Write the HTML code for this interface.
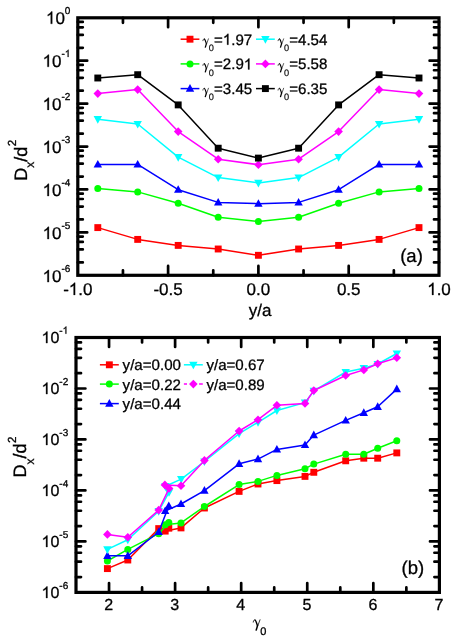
<!DOCTYPE html>
<html><head><meta charset="utf-8"><title>chart</title>
<style>html,body{margin:0;padding:0;background:#fff}svg text{font-family:"Liberation Sans",sans-serif;text-rendering:geometricPrecision;stroke:#000;stroke-width:0.3px}.o{stroke:#000;stroke-width:0.3px;vector-effect:non-scaling-stroke}body{width:457px;height:638px;position:relative;overflow:hidden;font-family:"Liberation Sans",sans-serif}</style>
</head><body>
<svg width="457" height="638" viewBox="0 0 457 638" style="position:absolute;left:0;top:0;will-change:transform" fill="#000">
<rect x="77.8" y="17.8" width="361.20" height="257.50" fill="none" stroke="#000" stroke-width="3.2"/>
<path d="M168.10 275.3v-9.4M168.10 17.8v9.4M258.40 275.3v-9.4M258.40 17.8v9.4M348.70 275.3v-9.4M348.70 17.8v9.4M122.95 275.3v-5.0M122.95 17.8v5.0M213.25 275.3v-5.0M213.25 17.8v5.0M303.55 275.3v-5.0M303.55 17.8v5.0M393.85 275.3v-5.0M393.85 17.8v5.0M77.8 60.72h9.4M439.0 60.72h-9.4M77.8 103.63h9.4M439.0 103.63h-9.4M77.8 146.55h9.4M439.0 146.55h-9.4M77.8 189.47h9.4M439.0 189.47h-9.4M77.8 232.38h9.4M439.0 232.38h-9.4M77.8 47.80h5.0M439.0 47.80h-5.0M77.8 34.88h5.0M439.0 34.88h-5.0M77.8 27.32h5.0M439.0 27.32h-5.0M77.8 21.96h5.0M439.0 21.96h-5.0M77.8 90.71h5.0M439.0 90.71h-5.0M77.8 77.79h5.0M439.0 77.79h-5.0M77.8 70.24h5.0M439.0 70.24h-5.0M77.8 64.88h5.0M439.0 64.88h-5.0M77.8 133.63h5.0M439.0 133.63h-5.0M77.8 120.71h5.0M439.0 120.71h-5.0M77.8 113.15h5.0M439.0 113.15h-5.0M77.8 107.79h5.0M439.0 107.79h-5.0M77.8 176.55h5.0M439.0 176.55h-5.0M77.8 163.63h5.0M439.0 163.63h-5.0M77.8 156.07h5.0M439.0 156.07h-5.0M77.8 150.71h5.0M439.0 150.71h-5.0M77.8 219.46h5.0M439.0 219.46h-5.0M77.8 206.54h5.0M439.0 206.54h-5.0M77.8 198.99h5.0M439.0 198.99h-5.0M77.8 193.63h5.0M439.0 193.63h-5.0M77.8 262.38h5.0M439.0 262.38h-5.0M77.8 249.46h5.0M439.0 249.46h-5.0M77.8 241.90h5.0M439.0 241.90h-5.0M77.8 236.54h5.0M439.0 236.54h-5.0" fill="none" stroke="#000" stroke-width="2.7" stroke-linecap="round"/>
<polyline points="97.80,227.60 137.70,239.40 178.20,245.40 218.20,249.00 258.40,255.30 298.60,249.00 338.60,245.40 379.10,239.40 419.00,227.60" fill="none" stroke="#ff0000" stroke-width="1.5" stroke-linejoin="round"/>
<rect x="94.35" y="224.15" width="6.9" height="6.9" fill="#ff0000"/>
<rect x="134.25" y="235.95" width="6.9" height="6.9" fill="#ff0000"/>
<rect x="174.75" y="241.95" width="6.9" height="6.9" fill="#ff0000"/>
<rect x="214.75" y="245.55" width="6.9" height="6.9" fill="#ff0000"/>
<rect x="254.95" y="251.85" width="6.9" height="6.9" fill="#ff0000"/>
<rect x="295.15" y="245.55" width="6.9" height="6.9" fill="#ff0000"/>
<rect x="335.15" y="241.95" width="6.9" height="6.9" fill="#ff0000"/>
<rect x="375.65" y="235.95" width="6.9" height="6.9" fill="#ff0000"/>
<rect x="415.55" y="224.15" width="6.9" height="6.9" fill="#ff0000"/>
<polyline points="97.80,188.40 137.70,191.90 178.20,203.30 218.20,217.30 258.40,221.40 298.60,217.30 338.60,203.30 379.10,191.90 419.00,188.40" fill="none" stroke="#00ff00" stroke-width="1.5" stroke-linejoin="round"/>
<circle cx="97.80" cy="188.40" r="3.5" fill="#00ff00"/>
<circle cx="137.70" cy="191.90" r="3.5" fill="#00ff00"/>
<circle cx="178.20" cy="203.30" r="3.5" fill="#00ff00"/>
<circle cx="218.20" cy="217.30" r="3.5" fill="#00ff00"/>
<circle cx="258.40" cy="221.40" r="3.5" fill="#00ff00"/>
<circle cx="298.60" cy="217.30" r="3.5" fill="#00ff00"/>
<circle cx="338.60" cy="203.30" r="3.5" fill="#00ff00"/>
<circle cx="379.10" cy="191.90" r="3.5" fill="#00ff00"/>
<circle cx="419.00" cy="188.40" r="3.5" fill="#00ff00"/>
<polyline points="97.80,164.40 137.70,164.40 178.20,189.70 218.20,202.40 258.40,203.70 298.60,202.40 338.60,189.70 379.10,164.40 419.00,164.40" fill="none" stroke="#0000ff" stroke-width="1.5" stroke-linejoin="round"/>
<path d="M97.80 159.90L93.60 167.50L102.00 167.50Z" fill="#0000ff"/>
<path d="M137.70 159.90L133.50 167.50L141.90 167.50Z" fill="#0000ff"/>
<path d="M178.20 185.20L174.00 192.80L182.40 192.80Z" fill="#0000ff"/>
<path d="M218.20 197.90L214.00 205.50L222.40 205.50Z" fill="#0000ff"/>
<path d="M258.40 199.20L254.20 206.80L262.60 206.80Z" fill="#0000ff"/>
<path d="M298.60 197.90L294.40 205.50L302.80 205.50Z" fill="#0000ff"/>
<path d="M338.60 185.20L334.40 192.80L342.80 192.80Z" fill="#0000ff"/>
<path d="M379.10 159.90L374.90 167.50L383.30 167.50Z" fill="#0000ff"/>
<path d="M419.00 159.90L414.80 167.50L423.20 167.50Z" fill="#0000ff"/>
<polyline points="97.80,119.20 137.70,124.00 178.20,157.20 218.20,177.60 258.40,182.90 298.60,177.60 338.60,157.20 379.10,124.00 419.00,119.20" fill="none" stroke="#00ffff" stroke-width="1.5" stroke-linejoin="round"/>
<path d="M97.80 123.70L93.60 116.10L102.00 116.10Z" fill="#00ffff"/>
<path d="M137.70 128.50L133.50 120.90L141.90 120.90Z" fill="#00ffff"/>
<path d="M178.20 161.70L174.00 154.10L182.40 154.10Z" fill="#00ffff"/>
<path d="M218.20 182.10L214.00 174.50L222.40 174.50Z" fill="#00ffff"/>
<path d="M258.40 187.40L254.20 179.80L262.60 179.80Z" fill="#00ffff"/>
<path d="M298.60 182.10L294.40 174.50L302.80 174.50Z" fill="#00ffff"/>
<path d="M338.60 161.70L334.40 154.10L342.80 154.10Z" fill="#00ffff"/>
<path d="M379.10 128.50L374.90 120.90L383.30 120.90Z" fill="#00ffff"/>
<path d="M419.00 123.70L414.80 116.10L423.20 116.10Z" fill="#00ffff"/>
<polyline points="97.80,93.60 137.70,89.60 178.20,131.60 218.20,159.20 258.40,164.70 298.60,159.20 338.60,131.60 379.10,89.60 419.00,93.60" fill="none" stroke="#ff00ff" stroke-width="1.5" stroke-linejoin="round"/>
<path d="M97.80 89.30L102.10 93.60L97.80 97.90L93.50 93.60Z" fill="#ff00ff"/>
<path d="M137.70 85.30L142.00 89.60L137.70 93.90L133.40 89.60Z" fill="#ff00ff"/>
<path d="M178.20 127.30L182.50 131.60L178.20 135.90L173.90 131.60Z" fill="#ff00ff"/>
<path d="M218.20 154.90L222.50 159.20L218.20 163.50L213.90 159.20Z" fill="#ff00ff"/>
<path d="M258.40 160.40L262.70 164.70L258.40 169.00L254.10 164.70Z" fill="#ff00ff"/>
<path d="M298.60 154.90L302.90 159.20L298.60 163.50L294.30 159.20Z" fill="#ff00ff"/>
<path d="M338.60 127.30L342.90 131.60L338.60 135.90L334.30 131.60Z" fill="#ff00ff"/>
<path d="M379.10 85.30L383.40 89.60L379.10 93.90L374.80 89.60Z" fill="#ff00ff"/>
<path d="M419.00 89.30L423.30 93.60L419.00 97.90L414.70 93.60Z" fill="#ff00ff"/>
<polyline points="97.80,78.00 137.70,74.70 178.20,104.90 218.20,148.20 258.40,158.10 298.60,148.20 338.60,104.90 379.10,74.70 419.00,78.00" fill="none" stroke="#000000" stroke-width="1.5" stroke-linejoin="round"/>
<rect x="94.35" y="74.55" width="6.9" height="6.9" fill="#000000"/>
<rect x="134.25" y="71.25" width="6.9" height="6.9" fill="#000000"/>
<rect x="174.75" y="101.45" width="6.9" height="6.9" fill="#000000"/>
<rect x="214.75" y="144.75" width="6.9" height="6.9" fill="#000000"/>
<rect x="254.95" y="154.65" width="6.9" height="6.9" fill="#000000"/>
<rect x="295.15" y="144.75" width="6.9" height="6.9" fill="#000000"/>
<rect x="335.15" y="101.45" width="6.9" height="6.9" fill="#000000"/>
<rect x="375.65" y="71.25" width="6.9" height="6.9" fill="#000000"/>
<rect x="415.55" y="74.55" width="6.9" height="6.9" fill="#000000"/>
<path d="M180.6 39.2H199.4" stroke="#ff0000" stroke-width="1.5" fill="none"/>
<rect x="186.55" y="35.75" width="6.9" height="6.9" fill="#ff0000"/>
<g transform="translate(202.7,45.2) scale(0.82)" fill="none" stroke="#000" stroke-linejoin="round"><path d="M0.25,-5.5C0.45,-7.2 1.2,-8.0 2.0,-7.8" stroke-width="0.85" stroke-linecap="round"/><path d="M1.7,-7.75C2.9,-7.5 3.4,-5.4 4.55,-1.5" stroke-width="1.45"/><path d="M7.15,-8.2L4.6,-1.2" stroke-width="0.8"/><path d="M4.55,-2.0L3.05,3.0" stroke-width="1.55"/></g>
<text x="208.7" y="50.8" font-size="9.2" style="stroke-width:0.15px">0</text>
<text x="214.00" y="44.70" font-size="15.1">=</text>
<path class="o" transform="translate(222.82,44.70) scale(15.1)" d="M0.3706,0L0.2827,0L0.2827,-0.56Q0.251,-0.5298 0.1995,-0.4995Q0.148,-0.469 0.107,-0.454L0.107,-0.539Q0.1807,-0.5737 0.2358,-0.623Q0.291,-0.672 0.314,-0.71875L0.3706,-0.71875Z"/>
<text x="231.21" y="44.70" font-size="15.1">.97</text>
<path d="M180.6 63.9H199.4" stroke="#00ff00" stroke-width="1.5" fill="none"/>
<circle cx="190.00" cy="63.90" r="3.5" fill="#00ff00"/>
<g transform="translate(202.7,69.9) scale(0.82)" fill="none" stroke="#000" stroke-linejoin="round"><path d="M0.25,-5.5C0.45,-7.2 1.2,-8.0 2.0,-7.8" stroke-width="0.85" stroke-linecap="round"/><path d="M1.7,-7.75C2.9,-7.5 3.4,-5.4 4.55,-1.5" stroke-width="1.45"/><path d="M7.15,-8.2L4.6,-1.2" stroke-width="0.8"/><path d="M4.55,-2.0L3.05,3.0" stroke-width="1.55"/></g>
<text x="208.7" y="75.5" font-size="9.2" style="stroke-width:0.15px">0</text>
<text x="214.00" y="69.40" font-size="15.1">=2.9</text>
<path class="o" transform="translate(243.81,69.40) scale(15.1)" d="M0.3706,0L0.2827,0L0.2827,-0.56Q0.251,-0.5298 0.1995,-0.4995Q0.148,-0.469 0.107,-0.454L0.107,-0.539Q0.1807,-0.5737 0.2358,-0.623Q0.291,-0.672 0.314,-0.71875L0.3706,-0.71875Z"/>
<path d="M180.6 88.6H199.4" stroke="#0000ff" stroke-width="1.5" fill="none"/>
<path d="M190.00 84.10L185.80 91.70L194.20 91.70Z" fill="#0000ff"/>
<g transform="translate(202.7,94.6) scale(0.82)" fill="none" stroke="#000" stroke-linejoin="round"><path d="M0.25,-5.5C0.45,-7.2 1.2,-8.0 2.0,-7.8" stroke-width="0.85" stroke-linecap="round"/><path d="M1.7,-7.75C2.9,-7.5 3.4,-5.4 4.55,-1.5" stroke-width="1.45"/><path d="M7.15,-8.2L4.6,-1.2" stroke-width="0.8"/><path d="M4.55,-2.0L3.05,3.0" stroke-width="1.55"/></g>
<text x="208.7" y="100.2" font-size="9.2" style="stroke-width:0.15px">0</text>
<text x="214.00" y="94.10" font-size="15.1">=3.45</text>
<path d="M256.0 39.2H274.8" stroke="#00ffff" stroke-width="1.5" fill="none"/>
<path d="M265.40 43.70L261.20 36.10L269.60 36.10Z" fill="#00ffff"/>
<g transform="translate(277.9,45.2) scale(0.82)" fill="none" stroke="#000" stroke-linejoin="round"><path d="M0.25,-5.5C0.45,-7.2 1.2,-8.0 2.0,-7.8" stroke-width="0.85" stroke-linecap="round"/><path d="M1.7,-7.75C2.9,-7.5 3.4,-5.4 4.55,-1.5" stroke-width="1.45"/><path d="M7.15,-8.2L4.6,-1.2" stroke-width="0.8"/><path d="M4.55,-2.0L3.05,3.0" stroke-width="1.55"/></g>
<text x="283.9" y="50.8" font-size="9.2" style="stroke-width:0.15px">0</text>
<text x="289.20" y="44.70" font-size="15.1">=4.54</text>
<path d="M256.0 63.9H274.8" stroke="#ff00ff" stroke-width="1.5" fill="none"/>
<path d="M265.40 59.60L269.70 63.90L265.40 68.20L261.10 63.90Z" fill="#ff00ff"/>
<g transform="translate(277.9,69.9) scale(0.82)" fill="none" stroke="#000" stroke-linejoin="round"><path d="M0.25,-5.5C0.45,-7.2 1.2,-8.0 2.0,-7.8" stroke-width="0.85" stroke-linecap="round"/><path d="M1.7,-7.75C2.9,-7.5 3.4,-5.4 4.55,-1.5" stroke-width="1.45"/><path d="M7.15,-8.2L4.6,-1.2" stroke-width="0.8"/><path d="M4.55,-2.0L3.05,3.0" stroke-width="1.55"/></g>
<text x="283.9" y="75.5" font-size="9.2" style="stroke-width:0.15px">0</text>
<text x="289.20" y="69.40" font-size="15.1">=5.58</text>
<path d="M256.0 88.6H274.8" stroke="#000000" stroke-width="1.5" fill="none"/>
<rect x="261.95" y="85.15" width="6.9" height="6.9" fill="#000000"/>
<g transform="translate(277.9,94.6) scale(0.82)" fill="none" stroke="#000" stroke-linejoin="round"><path d="M0.25,-5.5C0.45,-7.2 1.2,-8.0 2.0,-7.8" stroke-width="0.85" stroke-linecap="round"/><path d="M1.7,-7.75C2.9,-7.5 3.4,-5.4 4.55,-1.5" stroke-width="1.45"/><path d="M7.15,-8.2L4.6,-1.2" stroke-width="0.8"/><path d="M4.55,-2.0L3.05,3.0" stroke-width="1.55"/></g>
<text x="283.9" y="100.2" font-size="9.2" style="stroke-width:0.15px">0</text>
<text x="289.20" y="94.10" font-size="15.1">=6.35</text>
<path class="o" transform="translate(45.94,23.80) scale(17)" d="M0.3706,0L0.2827,0L0.2827,-0.56Q0.251,-0.5298 0.1995,-0.4995Q0.148,-0.469 0.107,-0.454L0.107,-0.539Q0.1807,-0.5737 0.2358,-0.623Q0.291,-0.672 0.314,-0.71875L0.3706,-0.71875Z"/>
<text x="55.39" y="23.80" font-size="17">0</text>
<text x="64.84" y="13.90" font-size="10">0</text>
<path class="o" transform="translate(42.61,66.85) scale(17)" d="M0.3706,0L0.2827,0L0.2827,-0.56Q0.251,-0.5298 0.1995,-0.4995Q0.148,-0.469 0.107,-0.454L0.107,-0.539Q0.1807,-0.5737 0.2358,-0.623Q0.291,-0.672 0.314,-0.71875L0.3706,-0.71875Z"/>
<text x="52.06" y="66.85" font-size="17">0</text>
<text x="61.51" y="56.95" font-size="10">-</text>
<path class="o" transform="translate(64.84,56.95) scale(10)" d="M0.3706,0L0.2827,0L0.2827,-0.56Q0.251,-0.5298 0.1995,-0.4995Q0.148,-0.469 0.107,-0.454L0.107,-0.539Q0.1807,-0.5737 0.2358,-0.623Q0.291,-0.672 0.314,-0.71875L0.3706,-0.71875Z"/>
<path class="o" transform="translate(42.61,109.90) scale(17)" d="M0.3706,0L0.2827,0L0.2827,-0.56Q0.251,-0.5298 0.1995,-0.4995Q0.148,-0.469 0.107,-0.454L0.107,-0.539Q0.1807,-0.5737 0.2358,-0.623Q0.291,-0.672 0.314,-0.71875L0.3706,-0.71875Z"/>
<text x="52.06" y="109.90" font-size="17">0</text>
<text x="61.51" y="100.00" font-size="10">-2</text>
<path class="o" transform="translate(42.61,152.95) scale(17)" d="M0.3706,0L0.2827,0L0.2827,-0.56Q0.251,-0.5298 0.1995,-0.4995Q0.148,-0.469 0.107,-0.454L0.107,-0.539Q0.1807,-0.5737 0.2358,-0.623Q0.291,-0.672 0.314,-0.71875L0.3706,-0.71875Z"/>
<text x="52.06" y="152.95" font-size="17">0</text>
<text x="61.51" y="143.05" font-size="10">-3</text>
<path class="o" transform="translate(42.61,196.00) scale(17)" d="M0.3706,0L0.2827,0L0.2827,-0.56Q0.251,-0.5298 0.1995,-0.4995Q0.148,-0.469 0.107,-0.454L0.107,-0.539Q0.1807,-0.5737 0.2358,-0.623Q0.291,-0.672 0.314,-0.71875L0.3706,-0.71875Z"/>
<text x="52.06" y="196.00" font-size="17">0</text>
<text x="61.51" y="186.10" font-size="10">-4</text>
<path class="o" transform="translate(42.61,239.05) scale(17)" d="M0.3706,0L0.2827,0L0.2827,-0.56Q0.251,-0.5298 0.1995,-0.4995Q0.148,-0.469 0.107,-0.454L0.107,-0.539Q0.1807,-0.5737 0.2358,-0.623Q0.291,-0.672 0.314,-0.71875L0.3706,-0.71875Z"/>
<text x="52.06" y="239.05" font-size="17">0</text>
<text x="61.51" y="229.15" font-size="10">-5</text>
<path class="o" transform="translate(42.61,282.10) scale(17)" d="M0.3706,0L0.2827,0L0.2827,-0.56Q0.251,-0.5298 0.1995,-0.4995Q0.148,-0.469 0.107,-0.454L0.107,-0.539Q0.1807,-0.5737 0.2358,-0.623Q0.291,-0.672 0.314,-0.71875L0.3706,-0.71875Z"/>
<text x="52.06" y="282.10" font-size="17">0</text>
<text x="61.51" y="272.20" font-size="10">-6</text>
<text x="63.15" y="294.90" font-size="17">-</text>
<path class="o" transform="translate(68.82,294.90) scale(17)" d="M0.3706,0L0.2827,0L0.2827,-0.56Q0.251,-0.5298 0.1995,-0.4995Q0.148,-0.469 0.107,-0.454L0.107,-0.539Q0.1807,-0.5737 0.2358,-0.623Q0.291,-0.672 0.314,-0.71875L0.3706,-0.71875Z"/>
<text x="78.27" y="294.90" font-size="17">.0</text>
<text x="153.45" y="294.90" font-size="17">-0.5</text>
<text x="246.58" y="294.90" font-size="17">0.0</text>
<text x="336.88" y="294.90" font-size="17">0.5</text>
<path class="o" transform="translate(427.19,294.90) scale(17)" d="M0.3706,0L0.2827,0L0.2827,-0.56Q0.251,-0.5298 0.1995,-0.4995Q0.148,-0.469 0.107,-0.454L0.107,-0.539Q0.1807,-0.5737 0.2358,-0.623Q0.291,-0.672 0.314,-0.71875L0.3706,-0.71875Z"/>
<text x="436.64" y="294.90" font-size="17">.0</text>
<text x="260.2" y="315.6" font-size="17" text-anchor="middle">y/a</text>
<text x="411.5" y="261.9" font-size="18.5" text-anchor="middle">(a)</text>
<text transform="translate(26.6,180.7) rotate(-90)" font-size="18">D<tspan font-size="12" dy="7.6">x</tspan><tspan dy="-7.6">/d</tspan><tspan font-size="11.7" dy="-10.3" dx="0.5">2</tspan></text>
<rect x="76.0" y="337.5" width="363.40" height="254.90" fill="none" stroke="#000" stroke-width="3.2"/>
<path d="M109.04 592.4v-9.4M109.04 337.5v9.4M175.11 592.4v-9.4M175.11 337.5v9.4M241.18 592.4v-9.4M241.18 337.5v9.4M307.25 592.4v-9.4M307.25 337.5v9.4M373.33 592.4v-9.4M373.33 337.5v9.4M142.07 592.4v-5.0M142.07 337.5v5.0M208.15 592.4v-5.0M208.15 337.5v5.0M274.22 592.4v-5.0M274.22 337.5v5.0M340.29 592.4v-5.0M340.29 337.5v5.0M406.36 592.4v-5.0M406.36 337.5v5.0M76.0 388.48h9.4M439.4 388.48h-9.4M76.0 439.46h9.4M439.4 439.46h-9.4M76.0 490.44h9.4M439.4 490.44h-9.4M76.0 541.42h9.4M439.4 541.42h-9.4M76.0 373.13h5.0M439.4 373.13h-5.0M76.0 357.79h5.0M439.4 357.79h-5.0M76.0 348.81h5.0M439.4 348.81h-5.0M76.0 342.44h5.0M439.4 342.44h-5.0M76.0 424.11h5.0M439.4 424.11h-5.0M76.0 408.77h5.0M439.4 408.77h-5.0M76.0 399.79h5.0M439.4 399.79h-5.0M76.0 393.42h5.0M439.4 393.42h-5.0M76.0 475.09h5.0M439.4 475.09h-5.0M76.0 459.75h5.0M439.4 459.75h-5.0M76.0 450.77h5.0M439.4 450.77h-5.0M76.0 444.40h5.0M439.4 444.40h-5.0M76.0 526.07h5.0M439.4 526.07h-5.0M76.0 510.73h5.0M439.4 510.73h-5.0M76.0 501.75h5.0M439.4 501.75h-5.0M76.0 495.38h5.0M439.4 495.38h-5.0M76.0 577.05h5.0M439.4 577.05h-5.0M76.0 561.71h5.0M439.4 561.71h-5.0M76.0 552.73h5.0M439.4 552.73h-5.0M76.0 546.36h5.0M439.4 546.36h-5.0" fill="none" stroke="#000" stroke-width="2.7" stroke-linecap="round"/>
<polyline points="107.40,568.60 127.80,560.00 158.70,528.60 168.80,528.20 165.20,531.10 181.00,527.90 204.40,508.00 239.10,491.40 258.00,484.00 276.90,480.60 305.00,476.40 313.80,472.30 345.70,460.80 363.80,458.20 377.70,458.20 396.80,452.90" fill="none" stroke="#ff0000" stroke-width="1.5" stroke-linejoin="round"/>
<rect x="103.95" y="565.15" width="6.9" height="6.9" fill="#ff0000"/>
<rect x="124.35" y="556.55" width="6.9" height="6.9" fill="#ff0000"/>
<rect x="155.25" y="525.15" width="6.9" height="6.9" fill="#ff0000"/>
<rect x="165.35" y="524.75" width="6.9" height="6.9" fill="#ff0000"/>
<rect x="161.75" y="527.65" width="6.9" height="6.9" fill="#ff0000"/>
<rect x="177.55" y="524.45" width="6.9" height="6.9" fill="#ff0000"/>
<rect x="200.95" y="504.55" width="6.9" height="6.9" fill="#ff0000"/>
<rect x="235.65" y="487.95" width="6.9" height="6.9" fill="#ff0000"/>
<rect x="254.55" y="480.55" width="6.9" height="6.9" fill="#ff0000"/>
<rect x="273.45" y="477.15" width="6.9" height="6.9" fill="#ff0000"/>
<rect x="301.55" y="472.95" width="6.9" height="6.9" fill="#ff0000"/>
<rect x="310.35" y="468.85" width="6.9" height="6.9" fill="#ff0000"/>
<rect x="342.25" y="457.35" width="6.9" height="6.9" fill="#ff0000"/>
<rect x="360.35" y="454.75" width="6.9" height="6.9" fill="#ff0000"/>
<rect x="374.25" y="454.75" width="6.9" height="6.9" fill="#ff0000"/>
<rect x="393.35" y="449.45" width="6.9" height="6.9" fill="#ff0000"/>
<polyline points="107.40,561.00 127.80,549.40 158.70,533.70 168.80,522.50 165.20,524.70 181.00,522.90 204.40,506.50 239.10,484.60 258.00,481.40 276.90,475.40 305.00,468.70 313.80,464.10 345.70,454.20 363.80,454.20 377.70,448.20 396.80,440.70" fill="none" stroke="#00ff00" stroke-width="1.5" stroke-linejoin="round"/>
<circle cx="107.40" cy="561.00" r="3.5" fill="#00ff00"/>
<circle cx="127.80" cy="549.40" r="3.5" fill="#00ff00"/>
<circle cx="158.70" cy="533.70" r="3.5" fill="#00ff00"/>
<circle cx="168.80" cy="522.50" r="3.5" fill="#00ff00"/>
<circle cx="165.20" cy="524.70" r="3.5" fill="#00ff00"/>
<circle cx="181.00" cy="522.90" r="3.5" fill="#00ff00"/>
<circle cx="204.40" cy="506.50" r="3.5" fill="#00ff00"/>
<circle cx="239.10" cy="484.60" r="3.5" fill="#00ff00"/>
<circle cx="258.00" cy="481.40" r="3.5" fill="#00ff00"/>
<circle cx="276.90" cy="475.40" r="3.5" fill="#00ff00"/>
<circle cx="305.00" cy="468.70" r="3.5" fill="#00ff00"/>
<circle cx="313.80" cy="464.10" r="3.5" fill="#00ff00"/>
<circle cx="345.70" cy="454.20" r="3.5" fill="#00ff00"/>
<circle cx="363.80" cy="454.20" r="3.5" fill="#00ff00"/>
<circle cx="377.70" cy="448.20" r="3.5" fill="#00ff00"/>
<circle cx="396.80" cy="440.70" r="3.5" fill="#00ff00"/>
<polyline points="107.40,555.80 127.80,555.80 158.70,532.00 168.80,506.00 165.20,511.00 181.00,504.00 204.40,490.60 239.10,463.80 258.00,459.10 276.90,449.40 305.00,445.00 313.80,435.10 345.70,420.40 363.80,412.80 377.70,406.80 396.80,389.10" fill="none" stroke="#0000ff" stroke-width="1.5" stroke-linejoin="round"/>
<path d="M107.40 551.30L103.20 558.90L111.60 558.90Z" fill="#0000ff"/>
<path d="M127.80 551.30L123.60 558.90L132.00 558.90Z" fill="#0000ff"/>
<path d="M158.70 527.50L154.50 535.10L162.90 535.10Z" fill="#0000ff"/>
<path d="M168.80 501.50L164.60 509.10L173.00 509.10Z" fill="#0000ff"/>
<path d="M165.20 506.50L161.00 514.10L169.40 514.10Z" fill="#0000ff"/>
<path d="M181.00 499.50L176.80 507.10L185.20 507.10Z" fill="#0000ff"/>
<path d="M204.40 486.10L200.20 493.70L208.60 493.70Z" fill="#0000ff"/>
<path d="M239.10 459.30L234.90 466.90L243.30 466.90Z" fill="#0000ff"/>
<path d="M258.00 454.60L253.80 462.20L262.20 462.20Z" fill="#0000ff"/>
<path d="M276.90 444.90L272.70 452.50L281.10 452.50Z" fill="#0000ff"/>
<path d="M305.00 440.50L300.80 448.10L309.20 448.10Z" fill="#0000ff"/>
<path d="M313.80 430.60L309.60 438.20L318.00 438.20Z" fill="#0000ff"/>
<path d="M345.70 415.90L341.50 423.50L349.90 423.50Z" fill="#0000ff"/>
<path d="M363.80 408.30L359.60 415.90L368.00 415.90Z" fill="#0000ff"/>
<path d="M377.70 402.30L373.50 409.90L381.90 409.90Z" fill="#0000ff"/>
<path d="M396.80 384.60L392.60 392.20L401.00 392.20Z" fill="#0000ff"/>
<polyline points="107.40,549.40 127.80,539.80 158.70,511.20 169.00,492.30 165.40,486.20 181.20,479.10 204.40,461.50 239.10,433.60 258.00,422.30 276.90,410.50 305.00,402.60 313.80,390.90 345.70,372.00 363.80,368.20 377.70,364.00 396.80,353.50" fill="none" stroke="#00ffff" stroke-width="1.5" stroke-linejoin="round"/>
<path d="M107.40 553.90L103.20 546.30L111.60 546.30Z" fill="#00ffff"/>
<path d="M127.80 544.30L123.60 536.70L132.00 536.70Z" fill="#00ffff"/>
<path d="M158.70 515.70L154.50 508.10L162.90 508.10Z" fill="#00ffff"/>
<path d="M169.00 496.80L164.80 489.20L173.20 489.20Z" fill="#00ffff"/>
<path d="M165.40 490.70L161.20 483.10L169.60 483.10Z" fill="#00ffff"/>
<path d="M181.20 483.60L177.00 476.00L185.40 476.00Z" fill="#00ffff"/>
<path d="M204.40 466.00L200.20 458.40L208.60 458.40Z" fill="#00ffff"/>
<path d="M239.10 438.10L234.90 430.50L243.30 430.50Z" fill="#00ffff"/>
<path d="M258.00 426.80L253.80 419.20L262.20 419.20Z" fill="#00ffff"/>
<path d="M276.90 415.00L272.70 407.40L281.10 407.40Z" fill="#00ffff"/>
<path d="M305.00 407.10L300.80 399.50L309.20 399.50Z" fill="#00ffff"/>
<path d="M313.80 395.40L309.60 387.80L318.00 387.80Z" fill="#00ffff"/>
<path d="M345.70 376.50L341.50 368.90L349.90 368.90Z" fill="#00ffff"/>
<path d="M363.80 372.70L359.60 365.10L368.00 365.10Z" fill="#00ffff"/>
<path d="M377.70 368.50L373.50 360.90L381.90 360.90Z" fill="#00ffff"/>
<path d="M396.80 358.00L392.60 350.40L401.00 350.40Z" fill="#00ffff"/>
<polyline points="107.40,534.40 127.80,537.30 158.70,510.10 169.10,488.40 164.90,484.90 181.00,485.80 204.40,460.40 239.10,431.00 258.00,419.70 276.90,405.30 305.00,403.40 313.80,390.50 345.70,375.50 363.80,369.90 377.70,363.70 396.80,357.70" fill="none" stroke="#ff00ff" stroke-width="1.5" stroke-linejoin="round"/>
<path d="M107.40 530.10L111.70 534.40L107.40 538.70L103.10 534.40Z" fill="#ff00ff"/>
<path d="M127.80 533.00L132.10 537.30L127.80 541.60L123.50 537.30Z" fill="#ff00ff"/>
<path d="M158.70 505.80L163.00 510.10L158.70 514.40L154.40 510.10Z" fill="#ff00ff"/>
<path d="M169.10 484.10L173.40 488.40L169.10 492.70L164.80 488.40Z" fill="#ff00ff"/>
<path d="M164.90 480.60L169.20 484.90L164.90 489.20L160.60 484.90Z" fill="#ff00ff"/>
<path d="M181.00 481.50L185.30 485.80L181.00 490.10L176.70 485.80Z" fill="#ff00ff"/>
<path d="M204.40 456.10L208.70 460.40L204.40 464.70L200.10 460.40Z" fill="#ff00ff"/>
<path d="M239.10 426.70L243.40 431.00L239.10 435.30L234.80 431.00Z" fill="#ff00ff"/>
<path d="M258.00 415.40L262.30 419.70L258.00 424.00L253.70 419.70Z" fill="#ff00ff"/>
<path d="M276.90 401.00L281.20 405.30L276.90 409.60L272.60 405.30Z" fill="#ff00ff"/>
<path d="M305.00 399.10L309.30 403.40L305.00 407.70L300.70 403.40Z" fill="#ff00ff"/>
<path d="M313.80 386.20L318.10 390.50L313.80 394.80L309.50 390.50Z" fill="#ff00ff"/>
<path d="M345.70 371.20L350.00 375.50L345.70 379.80L341.40 375.50Z" fill="#ff00ff"/>
<path d="M363.80 365.60L368.10 369.90L363.80 374.20L359.50 369.90Z" fill="#ff00ff"/>
<path d="M377.70 359.40L382.00 363.70L377.70 368.00L373.40 363.70Z" fill="#ff00ff"/>
<path d="M396.80 353.40L401.10 357.70L396.80 362.00L392.50 357.70Z" fill="#ff00ff"/>
<path d="M99.9 364.8H118.80000000000001" stroke="#ff0000" stroke-width="1.5" fill="none"/>
<rect x="105.90" y="361.35" width="6.9" height="6.9" fill="#ff0000"/>
<text x="122.6" y="370.4" font-size="15.1">y/a=0.00</text>
<path d="M99.9 384.1H118.80000000000001" stroke="#00ff00" stroke-width="1.5" fill="none"/>
<circle cx="109.35" cy="384.10" r="3.5" fill="#00ff00"/>
<text x="122.6" y="390.0" font-size="15.1">y/a=0.22</text>
<path d="M99.9 403.6H118.80000000000001" stroke="#0000ff" stroke-width="1.5" fill="none"/>
<path d="M109.35 399.10L105.15 406.70L113.55 406.70Z" fill="#0000ff"/>
<text x="122.6" y="408.7" font-size="15.1">y/a=0.44</text>
<path d="M183.9 364.8H202.8" stroke="#00ffff" stroke-width="1.5" fill="none"/>
<path d="M193.35 369.30L189.15 361.70L197.55 361.70Z" fill="#00ffff"/>
<text x="206.4" y="370.4" font-size="15.1">y/a=0.67</text>
<path d="M183.9 384.1H187.0M199.10000000000002 384.1H202.8" stroke="#ff00ff" stroke-width="1.5" fill="none"/>
<path d="M193.35 379.80L197.65 384.10L193.35 388.40L189.05 384.10Z" fill="#ff00ff"/>
<text x="206.4" y="390.0" font-size="15.1">y/a=0.89</text>
<path class="o" transform="translate(41.52,343.10) scale(16)" d="M0.3706,0L0.2827,0L0.2827,-0.56Q0.251,-0.5298 0.1995,-0.4995Q0.148,-0.469 0.107,-0.454L0.107,-0.539Q0.1807,-0.5737 0.2358,-0.623Q0.291,-0.672 0.314,-0.71875L0.3706,-0.71875Z"/>
<text x="50.41" y="343.10" font-size="16">0</text>
<text x="59.31" y="333.70" font-size="10">-</text>
<path class="o" transform="translate(62.64,333.70) scale(10)" d="M0.3706,0L0.2827,0L0.2827,-0.56Q0.251,-0.5298 0.1995,-0.4995Q0.148,-0.469 0.107,-0.454L0.107,-0.539Q0.1807,-0.5737 0.2358,-0.623Q0.291,-0.672 0.314,-0.71875L0.3706,-0.71875Z"/>
<path class="o" transform="translate(41.52,394.08) scale(16)" d="M0.3706,0L0.2827,0L0.2827,-0.56Q0.251,-0.5298 0.1995,-0.4995Q0.148,-0.469 0.107,-0.454L0.107,-0.539Q0.1807,-0.5737 0.2358,-0.623Q0.291,-0.672 0.314,-0.71875L0.3706,-0.71875Z"/>
<text x="50.41" y="394.08" font-size="16">0</text>
<text x="59.31" y="384.68" font-size="10">-2</text>
<path class="o" transform="translate(41.52,445.06) scale(16)" d="M0.3706,0L0.2827,0L0.2827,-0.56Q0.251,-0.5298 0.1995,-0.4995Q0.148,-0.469 0.107,-0.454L0.107,-0.539Q0.1807,-0.5737 0.2358,-0.623Q0.291,-0.672 0.314,-0.71875L0.3706,-0.71875Z"/>
<text x="50.41" y="445.06" font-size="16">0</text>
<text x="59.31" y="435.66" font-size="10">-3</text>
<path class="o" transform="translate(41.52,496.04) scale(16)" d="M0.3706,0L0.2827,0L0.2827,-0.56Q0.251,-0.5298 0.1995,-0.4995Q0.148,-0.469 0.107,-0.454L0.107,-0.539Q0.1807,-0.5737 0.2358,-0.623Q0.291,-0.672 0.314,-0.71875L0.3706,-0.71875Z"/>
<text x="50.41" y="496.04" font-size="16">0</text>
<text x="59.31" y="486.64" font-size="10">-4</text>
<path class="o" transform="translate(41.52,547.02) scale(16)" d="M0.3706,0L0.2827,0L0.2827,-0.56Q0.251,-0.5298 0.1995,-0.4995Q0.148,-0.469 0.107,-0.454L0.107,-0.539Q0.1807,-0.5737 0.2358,-0.623Q0.291,-0.672 0.314,-0.71875L0.3706,-0.71875Z"/>
<text x="50.41" y="547.02" font-size="16">0</text>
<text x="59.31" y="537.62" font-size="10">-5</text>
<path class="o" transform="translate(41.52,598.00) scale(16)" d="M0.3706,0L0.2827,0L0.2827,-0.56Q0.251,-0.5298 0.1995,-0.4995Q0.148,-0.469 0.107,-0.454L0.107,-0.539Q0.1807,-0.5737 0.2358,-0.623Q0.291,-0.672 0.314,-0.71875L0.3706,-0.71875Z"/>
<text x="50.41" y="598.00" font-size="16">0</text>
<text x="59.31" y="588.60" font-size="10">-6</text>
<text x="108.64" y="610.2" font-size="16" text-anchor="middle">2</text>
<text x="174.71" y="610.2" font-size="16" text-anchor="middle">3</text>
<text x="240.78" y="610.2" font-size="16" text-anchor="middle">4</text>
<text x="306.85" y="610.2" font-size="16" text-anchor="middle">5</text>
<text x="372.93" y="610.2" font-size="16" text-anchor="middle">6</text>
<text x="439.00" y="610.2" font-size="16" text-anchor="middle">7</text>
<g transform="translate(253.0,627.6) scale(1.0)" fill="none" stroke="#000" stroke-linejoin="round"><path d="M0.25,-5.5C0.45,-7.2 1.2,-8.0 2.0,-7.8" stroke-width="0.85" stroke-linecap="round"/><path d="M1.7,-7.75C2.9,-7.5 3.4,-5.4 4.55,-1.5" stroke-width="1.45"/><path d="M7.15,-8.2L4.6,-1.2" stroke-width="0.8"/><path d="M4.55,-2.0L3.05,3.0" stroke-width="1.55"/></g>
<text x="260.3" y="634.5" font-size="11">0</text>
<text x="412.9" y="574.3" font-size="18.5" text-anchor="middle">(b)</text>
<text transform="translate(26.0,477.4) rotate(-90)" font-size="18">D<tspan font-size="12" dy="7.6">x</tspan><tspan dy="-7.6">/d</tspan><tspan font-size="11.7" dy="-10.3" dx="0.5">2</tspan></text>
</svg>
</body></html>
